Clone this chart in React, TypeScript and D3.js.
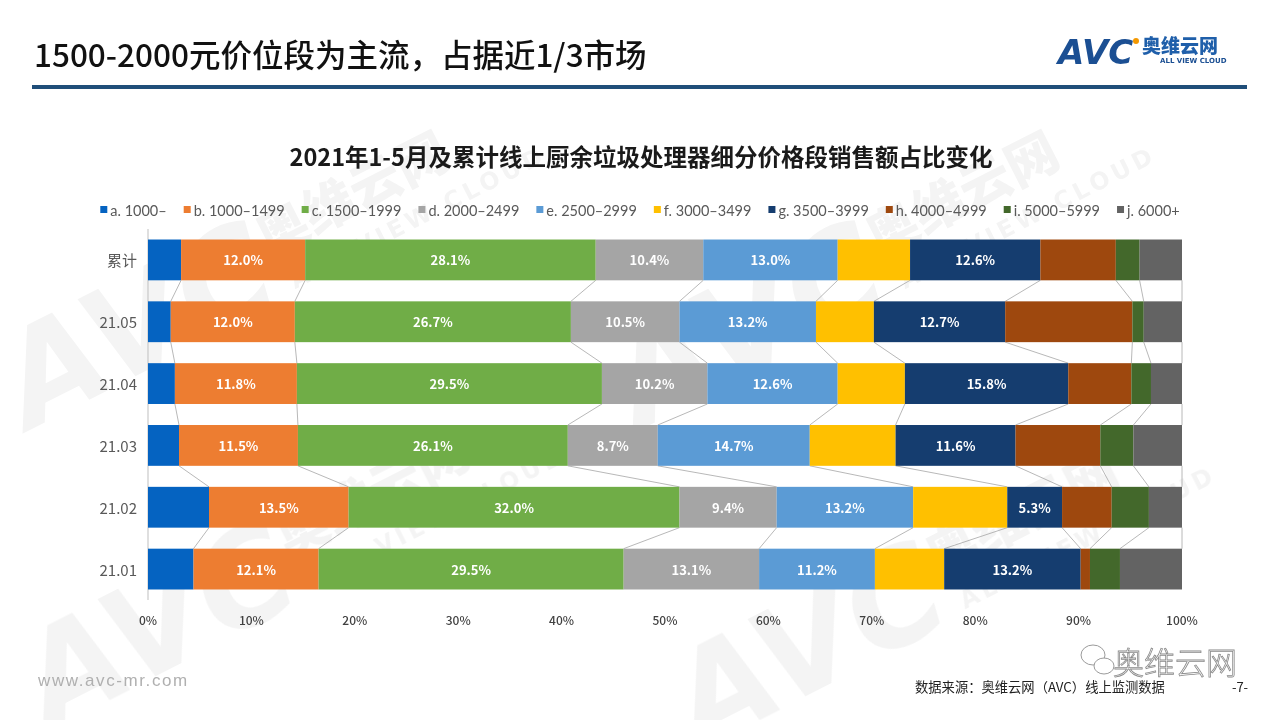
import React, { useEffect, useRef } from "react";
import * as d3 from "d3";

// ---------- data ----------
const categories = ["累计", "21.05", "21.04", "21.03", "21.02", "21.01"];
const seriesKeys = ["a", "b", "c", "d", "e", "f", "g", "h", "i", "j"];
const seriesNames = [
  "a. 1000–",
  "b. 1000–1499",
  "c. 1500–1999",
  "d. 2000–2499",
  "e. 2500–2999",
  "f. 3000–3499",
  "g. 3500–3999",
  "h. 4000–4999",
  "i. 5000–5999",
  "j. 6000+",
];
const seriesColors = [
  "#0563C1",
  "#ED7D31",
  "#70AD47",
  "#A5A5A5",
  "#5B9BD5",
  "#FFC000",
  "#153D6F",
  "#9E480E",
  "#43682B",
  "#636363",
];
// values in %, order follows categories
const valuesA = [3.2, 2.2, 2.6, 3.0, 5.9, 4.4];
const valuesB = [12.0, 12.0, 11.8, 11.5, 13.5, 12.1];
const valuesC = [28.1, 26.7, 29.5, 26.1, 32.0, 29.5];
const valuesD = [10.4, 10.5, 10.2, 8.7, 9.4, 13.1];
const valuesE = [13.0, 13.2, 12.6, 14.7, 13.2, 11.2];
const valuesF = [7.0, 5.6, 6.5, 8.3, 9.1, 6.7];
const valuesG = [12.6, 12.7, 15.8, 11.6, 5.3, 13.2];
const valuesH = [7.3, 12.3, 6.1, 8.2, 4.8, 0.9];
const valuesI = [2.3, 1.1, 1.9, 3.2, 3.6, 2.9];
const valuesJ = [4.1, 3.7, 3.0, 4.7, 3.2, 6.0];
const seriesValues = [valuesA, valuesB, valuesC, valuesD, valuesE, valuesF, valuesG, valuesH, valuesI, valuesJ];
const labelledKeys = ["b", "c", "d", "e", "g"];
const xTicks = [0, 10, 20, 30, 40, 50, 60, 70, 80, 90, 100];

const pageTitle = "1500-2000元价位段为主流，占据近1/3市场";
const chartTitle = "2021年1-5月及累计线上厨余垃圾处理器细分价格段销售额占比变化";
const sourceText = "数据来源：奥维云网（AVC）线上监测数据";

const CJK = "'Noto Sans CJK SC', 'Noto Sans', sans-serif";

export default function App() {
  const ref = useRef<SVGSVGElement>(null);

  useEffect(() => {
    const svg = d3.select(ref.current);
    svg.selectAll("*").remove();

    svg.append("rect").attr("width", 1280).attr("height", 720).attr("fill", "#ffffff");

    // ---------- watermarks ----------
    const wm = svg.append("g").attr("fill", "#000").attr("opacity", 0.045);
    const addWatermark = (x: number, y: number) => {
      const g = wm.append("g").attr("transform", `translate(${x},${y}) rotate(-27)`);
      g.append("text")
        .text("AVC")
        .attr("font-family", "'DejaVu Sans', sans-serif")
        .attr("font-weight", 900)
        .attr("font-style", "italic")
        .attr("font-size", 130);
      g.append("text")
        .text("奥维云网")
        .attr("x", 290)
        .attr("y", -45)
        .attr("font-family", CJK)
        .attr("font-weight", 900)
        .attr("font-size", 52);
      g.append("text")
        .text("ALL VIEW CLOUD")
        .attr("x", 300)
        .attr("y", -5)
        .attr("font-family", "'DejaVu Sans', sans-serif")
        .attr("font-weight", 700)
        .attr("letter-spacing", 4)
        .attr("font-size", 24);
    };
    addWatermark(30, 430);
    addWatermark(640, 430);
    addWatermark(50, 730);
    addWatermark(700, 750);

    // ---------- header ----------
    svg
      .append("text")
      .text(pageTitle)
      .attr("x", 34)
      .attr("y", 67)
      .attr("font-family", CJK)
      .attr("font-weight", 500)
      .attr("font-size", 31.5)
      .attr("fill", "#111");
    svg
      .append("rect")
      .attr("x", 32)
      .attr("y", 85)
      .attr("width", 1215)
      .attr("height", 4)
      .attr("fill", "#1F4E79");

    // logo
    svg
      .append("text")
      .text("AVC")
      .attr("x", 1058)
      .attr("y", 64)
      .attr("font-family", "'DejaVu Sans', sans-serif")
      .attr("font-weight", 900)
      .attr("font-style", "italic")
      .attr("font-size", 34)
      .attr("fill", "#1B4F93");
    svg.append("circle").attr("cx", 1136).attr("cy", 41).attr("r", 3).attr("fill", "#F39800");
    svg
      .append("text")
      .text("奥维云网")
      .attr("x", 1142)
      .attr("y", 53)
      .attr("font-family", CJK)
      .attr("font-weight", 900)
      .attr("font-size", 19)
      .attr("fill", "#1F5FAA");
    svg
      .append("text")
      .text("ALL VIEW CLOUD")
      .attr("x", 1160)
      .attr("y", 63)
      .attr("font-family", "'DejaVu Sans', sans-serif")
      .attr("font-weight", 700)
      .attr("font-size", 7)
      .attr("fill", "#1B4F93");

    // ---------- chart title ----------
    svg
      .append("text")
      .text(chartTitle)
      .attr("x", 641)
      .attr("y", 166)
      .attr("text-anchor", "middle")
      .attr("font-family", CJK)
      .attr("font-weight", 700)
      .attr("font-size", 23.5)
      .attr("fill", "#1a1a1a");

    // ---------- legend ----------
    const legend = svg.append("g");
    const items = legend.selectAll("g").data(seriesNames).join("g");
    items
      .append("rect")
      .attr("width", 7)
      .attr("height", 7)
      .attr("y", -4)
      .attr("fill", (_d, i) => seriesColors[i]);
    items
      .append("text")
      .text((d) => d)
      .attr("x", 10)
      .attr("y", 0)
      .attr("dominant-baseline", "central")
      .attr("font-family", "Lato, 'Open Sans', sans-serif")
      .attr("font-size", 14.5)
      .attr("fill", "#595959");
    const widths: number[] = [];
    items.each(function () {
      widths.push((d3.select(this).select("text").node() as SVGTextElement).getComputedTextLength() + 10);
    });
    const gap = 17;
    const total = d3.sum(widths) + gap * (widths.length - 1);
    let cx = 640 - total / 2;
    items.attr("transform", (_d, i) => {
      const t = `translate(${cx},210)`;
      cx += widths[i] + gap;
      return t;
    });

    // ---------- plot ----------
    const rows = categories.map((c, i) => {
      const r: any = { cat: c };
      seriesKeys.forEach((k, s) => (r[k] = seriesValues[s][i]));
      return r;
    });
    const stack = d3.stack<any>().keys(seriesKeys)(rows);

    const x = d3.scaleLinear().domain([0, 100]).range([148, 1182]);
    const y = d3
      .scaleBand<string>()
      .domain(categories)
      .range([229, 600])
      .paddingInner(0.34)
      .paddingOuter(0.17);
    const bw = y.bandwidth();

    // series lines between bars
    const conn = svg.append("g").attr("stroke", "#A6A6A6").attr("stroke-width", 0.8);
    stack.forEach((layer) => {
      for (let i = 0; i < categories.length - 1; i++) {
        conn
          .append("line")
          .attr("x1", x(layer[i][1]))
          .attr("y1", (y(categories[i]) as number) + bw)
          .attr("x2", x(layer[i + 1][1]))
          .attr("y2", y(categories[i + 1]) as number);
      }
    });

    // axis line
    svg
      .append("line")
      .attr("x1", x(0))
      .attr("x2", x(0))
      .attr("y1", 229)
      .attr("y2", 600)
      .attr("stroke", "#BFBFBF")
      .attr("stroke-width", 1);

    // bars
    const layers = svg
      .append("g")
      .selectAll("g")
      .data(stack)
      .join("g")
      .attr("fill", (_d, i) => seriesColors[i]);
    layers
      .selectAll("rect")
      .data((d) => d)
      .join("rect")
      .attr("x", (d) => x(d[0]))
      .attr("width", (d) => x(d[1]) - x(d[0]))
      .attr("y", (d) => y(d.data.cat) as number)
      .attr("height", bw);

    // labels
    stack
      .filter((layer) => labelledKeys.includes(layer.key))
      .forEach((layer) => {
        svg
          .append("g")
          .selectAll("text")
          .data(layer)
          .join("text")
          .text((d) => `${(d[1] - d[0]).toFixed(1)}%`)
          .attr("x", (d) => (x(d[0]) + x(d[1])) / 2)
          .attr("y", (d) => (y(d.data.cat) as number) + bw / 2)
          .attr("text-anchor", "middle")
          .attr("dominant-baseline", "central")
          .attr("font-family", CJK)
          .attr("font-weight", 700)
          .attr("font-size", 13)
          .attr("fill", "#ffffff");
      });

    // category labels
    svg
      .append("g")
      .selectAll("text")
      .data(categories)
      .join("text")
      .text((d) => d)
      .attr("x", 137)
      .attr("y", (d) => (y(d) as number) + bw / 2)
      .attr("text-anchor", "end")
      .attr("dominant-baseline", "central")
      .attr("font-family", CJK)
      .attr("font-size", 15)
      .attr("fill", "#595959");

    // x tick labels
    svg
      .append("g")
      .selectAll("text")
      .data(xTicks)
      .join("text")
      .text((d) => `${d}%`)
      .attr("x", (d) => x(d))
      .attr("y", 619)
      .attr("text-anchor", "middle")
      .attr("dominant-baseline", "central")
      .attr("font-family", CJK)
      .attr("font-weight", 500)
      .attr("font-size", 12)
      .attr("fill", "#404040");

    // ---------- footer ----------
    svg
      .append("text")
      .text("www.avc-mr.com")
      .attr("x", 38)
      .attr("y", 686)
      .attr("font-family", "'Liberation Sans', sans-serif")
      .attr("font-size", 17)
      .attr("letter-spacing", 1.6)
      .attr("fill", "#B0B0B0");

    // wechat mark
    const wc = svg.append("g").attr("fill", "none").attr("stroke", "#9a9a9a").attr("stroke-width", 1);
    wc.append("ellipse").attr("cx", 1093).attr("cy", 655).attr("rx", 12).attr("ry", 10);
    wc.append("ellipse").attr("cx", 1104).attr("cy", 666).attr("rx", 10).attr("ry", 8).attr("fill", "#fff");
    svg
      .append("text")
      .text("奥维云网")
      .attr("x", 1113)
      .attr("y", 674)
      .attr("font-family", CJK)
      .attr("font-weight", 300)
      .attr("font-size", 31)
      .attr("fill", "#ffffff")
      .attr("stroke", "#8a8a8a")
      .attr("stroke-width", 0.8);

    svg
      .append("text")
      .text(sourceText)
      .attr("x", 915)
      .attr("y", 692)
      .attr("font-family", CJK)
      .attr("font-size", 13.3)
      .attr("fill", "#222");
    svg
      .append("text")
      .text("-7-")
      .attr("x", 1240)
      .attr("y", 692)
      .attr("text-anchor", "middle")
      .attr("font-family", CJK)
      .attr("font-size", 13)
      .attr("fill", "#222");
  }, []);

  return (
    <svg
      ref={ref}
      width={1280}
      height={720}
      style={{ position: "absolute", left: 0, top: 0, display: "block" }}
    />
  );
}
